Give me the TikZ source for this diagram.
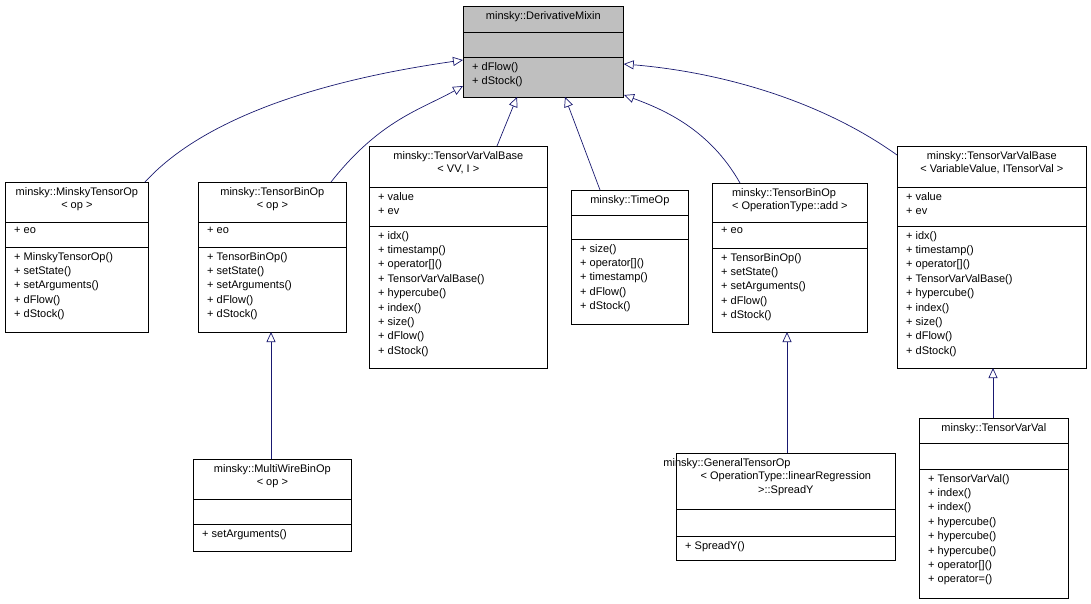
\documentclass[tikz,border=0pt]{standalone}
\usepackage{fontspec}
\setmainfont{Liberation Sans}
\usetikzlibrary{arrows.meta,calc}
\definecolor{edge}{HTML}{191970}
\tikzstyle{box}=[draw, inner sep=0pt, line width=0.7pt]
\tikzstyle{ttl}=[inner sep=0pt, align=center, font=\fontsize{11}{13.5}\selectfont]
\tikzstyle{mem}=[inner sep=0pt, align=left, anchor=north west, font=\fontsize{11}{14.4}\selectfont]
\tikzstyle{inh}=[draw=edge, line width=0.7pt, -{Triangle[open, length=10pt, width=9pt]}]
\def\boxfill{white}
\def\ttlalign{center}
\newcommand\cls[8]{%
  \node[box, fill=\boxfill, minimum width=#4pt, minimum height=#5pt, anchor=north west] (#1) at (#2,#3) {};
  \draw[line width=0.7pt] ([yshift=-#6pt]#1.north west) -- ([yshift=-#6pt]#1.north east);
  \draw[line width=0.7pt] ([yshift=-#7pt]#1.north west) -- ([yshift=-#7pt]#1.north east);
  \node[ttl, align=\ttlalign, anchor=north] at ([yshift=-5pt]#1.north) {#8};
  \coordinate (#1-a) at ([xshift=9pt,yshift=-#6pt-5pt]#1.north west);
  \coordinate (#1-m) at ([xshift=9pt,yshift=-#7pt-5pt]#1.north west);
}
\begin{document}
\begin{tikzpicture}[x=1pt,y=-1pt]
\useasboundingbox (0,0) rectangle (1091,603);
% base class
\def\boxfill{black!25}
\cls{mixin}{463}{6}{160}{91}{26}{51}{minsky::DerivativeMixin}
\def\boxfill{white}
\node[mem] at (mixin-m) {+ dFlow()\\+ dStock()};

% derived classes
\cls{mto}{5}{182}{143}{150}{40}{65}{minsky::MinskyTensorOp\\< op >}
\node[mem] at (mto-a) {+ eo};
\node[mem] at (mto-m) {+ MinskyTensorOp()\\+ setState()\\+ setArguments()\\+ dFlow()\\+ dStock()};

\cls{tbo}{198}{182}{148}{150}{40}{65}{minsky::TensorBinOp\\< op >}
\node[mem] at (tbo-a) {+ eo};
\node[mem] at (tbo-m) {+ TensorBinOp()\\+ setState()\\+ setArguments()\\+ dFlow()\\+ dStock()};

\cls{tvvb}{369}{146}{178}{222}{41}{80}{minsky::TensorVarValBase\\< VV, I >}
\node[mem] at (tvvb-a) {+ value\\+ ev};
\node[mem] at (tvvb-m) {+ idx()\\+ timestamp()\\+ operator[]()\\+ TensorVarValBase()\\+ hypercube()\\+ index()\\+ size()\\+ dFlow()\\+ dStock()};

\cls{time}{571}{190}{117}{134}{25}{49}{minsky::TimeOp}
\node[mem] at (time-m) {+ size()\\+ operator[]()\\+ timestamp()\\+ dFlow()\\+ dStock()};

\def\ttlalign{left}
\cls{tboadd}{712}{183}{155}{149}{39}{65}{minsky::TensorBinOp\\< OperationType::add >}
\def\ttlalign{center}
\node[mem] at (tboadd-a) {+ eo};
\node[mem] at (tboadd-m) {+ TensorBinOp()\\+ setState()\\+ setArguments()\\+ dFlow()\\+ dStock()};

\cls{tvvb2}{897}{146}{189}{222}{41}{80}{minsky::TensorVarValBase\\< VariableValue, ITensorVal >}
\node[mem] at (tvvb2-a) {+ value\\+ ev};
\node[mem] at (tvvb2-m) {+ idx()\\+ timestamp()\\+ operator[]()\\+ TensorVarValBase()\\+ hypercube()\\+ index()\\+ size()\\+ dFlow()\\+ dStock()};

% second level
\cls{mwbo}{193}{459}{158}{92}{40}{65}{minsky::MultiWireBinOp\\< op >}
\node[mem] at (mwbo-m) {+ setArguments()};

\cls{gto}{676}{453}{219}{107}{56}{83}{\hspace*{-1.2em}minsky::GeneralTensorOp\hspace*{9.5em}\\< OperationType::linearRegression\\ >::SpreadY}
\node[mem] at (gto-m) {+ SpreadY()};

\cls{tvv}{919}{418}{149}{180}{25}{51}{minsky::TensorVarVal}
\node[mem] at (tvv-m) {+ TensorVarVal()\\+ index()\\+ index()\\+ hypercube()\\+ hypercube()\\+ hypercube()\\+ operator[]()\\+ operator=()};

% inheritance
\draw[inh] (145,182) .. controls (220,100) and (380,72) .. ([yshift=-54pt]mixin.north west);
\draw[inh] (331,182) .. controls (380,120) and (420,110) .. ([yshift=-80pt]mixin.north west);
\draw[inh] (497,146) -- (517,97);
\draw[inh] (600,190) -- (565,97);
\draw[inh] (740,183) .. controls (710,130) and (665,110) .. (624,95);
\draw[inh] (897,155) .. controls (820,100) and (720,72) .. ([yshift=-58pt]mixin.north east);
\draw[inh] (271,459) -- (271,332);
\draw[inh] (787,453) -- (787,332);
\draw[inh] (993,418) -- (993,368);
\end{tikzpicture}
\end{document}
